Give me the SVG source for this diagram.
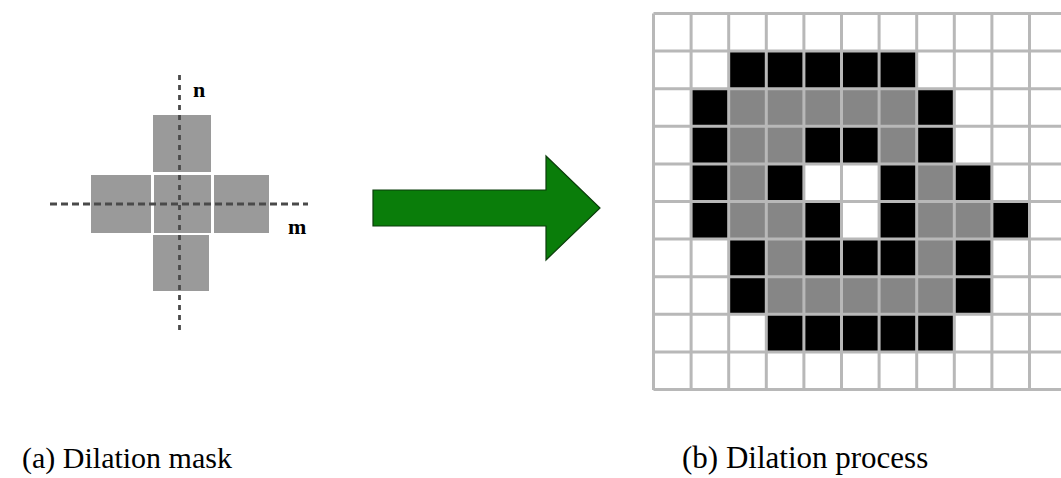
<svg xmlns="http://www.w3.org/2000/svg" width="1061" height="478" viewBox="0 0 1061 478">
<style>
  .m { fill: #9a9a9a; }
  .k { fill: #000000; }
  .g { fill: #868686; }
  .gl { stroke: #b8b8b8; stroke-width: 3; fill: none; }
  .dash { stroke: #4a4a4a; stroke-width: 2.8; fill: none; }
  .lbl { font-family: "Liberation Serif", serif; font-weight: bold; font-size: 22px; fill: #000; }
  .cap { font-family: "Liberation Serif", "Times New Roman", serif; fill: #000; }
</style>
<rect width="1061" height="478" fill="#ffffff"/>

<g id="mask">
  <rect class="m" x="153" y="115" width="58" height="57"/>
  <rect class="m" x="91" y="175" width="60" height="58"/>
  <rect class="m" x="154" y="175" width="57" height="58"/>
  <rect class="m" x="214" y="175" width="55" height="58"/>
  <rect class="m" x="153" y="235" width="56" height="56"/>
  <line class="dash" x1="179.5" y1="75" x2="179.5" y2="333" stroke-dasharray="5 5"/>
  <line class="dash" x1="50" y1="204" x2="308" y2="204" stroke-dasharray="7 4"/>
  <text class="lbl" x="193" y="97">n</text>
  <text class="lbl" x="288" y="234">m</text>
</g>

<g id="connectors">
  <polygon points="373,190 546,190 546,156 600,208 546,260 546,226 373,226" fill="#0a7d0a" stroke="#0b3d0b" stroke-width="1.2"/>
</g>

<g id="grid" transform="translate(653.5,13.5)">
  <g id="cells-black" class="k">
    <rect x="75.2" y="37.6" width="37.6" height="37.6"/>
    <rect x="112.8" y="37.6" width="37.6" height="37.6"/>
    <rect x="150.4" y="37.6" width="37.6" height="37.6"/>
    <rect x="188" y="37.6" width="37.6" height="37.6"/>
    <rect x="225.6" y="37.6" width="37.6" height="37.6"/>
    <rect x="37.6" y="75.2" width="37.6" height="37.6"/>
    <rect x="263.2" y="75.2" width="37.6" height="37.6"/>
    <rect x="37.6" y="112.8" width="37.6" height="37.6"/>
    <rect x="150.4" y="112.8" width="37.6" height="37.6"/>
    <rect x="188" y="112.8" width="37.6" height="37.6"/>
    <rect x="263.2" y="112.8" width="37.6" height="37.6"/>
    <rect x="37.6" y="150.4" width="37.6" height="37.6"/>
    <rect x="112.8" y="150.4" width="37.6" height="37.6"/>
    <rect x="225.6" y="150.4" width="37.6" height="37.6"/>
    <rect x="300.8" y="150.4" width="37.6" height="37.6"/>
    <rect x="37.6" y="188" width="37.6" height="37.6"/>
    <rect x="150.4" y="188" width="37.6" height="37.6"/>
    <rect x="225.6" y="188" width="37.6" height="37.6"/>
    <rect x="338.4" y="188" width="37.6" height="37.6"/>
    <rect x="75.2" y="225.6" width="37.6" height="37.6"/>
    <rect x="150.4" y="225.6" width="37.6" height="37.6"/>
    <rect x="188" y="225.6" width="37.6" height="37.6"/>
    <rect x="225.6" y="225.6" width="37.6" height="37.6"/>
    <rect x="300.8" y="225.6" width="37.6" height="37.6"/>
    <rect x="75.2" y="263.2" width="37.6" height="37.6"/>
    <rect x="300.8" y="263.2" width="37.6" height="37.6"/>
    <rect x="112.8" y="300.8" width="37.6" height="37.6"/>
    <rect x="150.4" y="300.8" width="37.6" height="37.6"/>
    <rect x="188" y="300.8" width="37.6" height="37.6"/>
    <rect x="225.6" y="300.8" width="37.6" height="37.6"/>
    <rect x="263.2" y="300.8" width="37.6" height="37.6"/>
  </g>
  <g id="cells-gray" class="g">
    <rect x="75.2" y="75.2" width="188" height="37.6"/>
    <rect x="75.2" y="112.8" width="75.2" height="37.6"/>
    <rect x="225.6" y="112.8" width="37.6" height="37.6"/>
    <rect x="75.2" y="150.4" width="37.6" height="37.6"/>
    <rect x="263.2" y="150.4" width="37.6" height="37.6"/>
    <rect x="75.2" y="188" width="75.2" height="37.6"/>
    <rect x="263.2" y="188" width="75.2" height="37.6"/>
    <rect x="112.8" y="225.6" width="37.6" height="37.6"/>
    <rect x="263.2" y="225.6" width="37.6" height="37.6"/>
    <rect x="112.8" y="263.2" width="188" height="37.6"/>
  </g>
  <path class="gl" d="M0,0V376.5 M37.6,0V376.5 M75.2,0V376.5 M112.8,0V376.5 M150.4,0V376.5 M188,0V376.5 M225.6,0V376.5 M263.2,0V376.5 M300.8,0V376.5 M338.4,0V376.5 M376,0V376.5 M0,0H420 M0,37.6H420 M0,75.2H420 M0,112.8H420 M0,150.4H420 M0,188H420 M0,225.6H420 M0,263.2H420 M0,300.8H420 M0,338.4H420 M0,376H420"/>
</g>

<g id="captions">
  <text class="cap" x="22" y="468" font-size="30">(a) Dilation mask</text>
  <text class="cap" x="682" y="468" font-size="31">(b) Dilation process</text>
</g>
</svg>
